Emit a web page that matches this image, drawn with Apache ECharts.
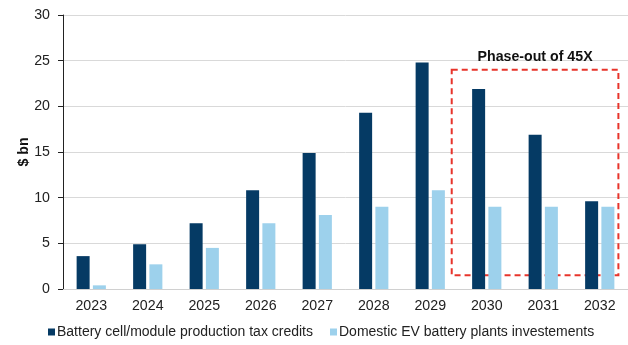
<!DOCTYPE html>
<html>
<head>
<meta charset="utf-8">
<script src="https://cdn.jsdelivr.net/npm/echarts@6/dist/echarts.min.js"></script>
<style>html,body{margin:0;padding:0;background:#fff;}#c{width:628px;height:345px;}</style>
</head>
<body>
<div id="c"></div>
<script>
const categories = ['2023','2024','2025','2026','2027','2028','2029','2030','2031','2032'];
const taxCredits = [3.6, 4.9, 7.2, 10.8, 14.9, 19.3, 24.8, 21.9, 16.9, 9.6];
const plantInvest = [0.4, 2.7, 4.5, 7.2, 8.1, 9.0, 10.8, 9.0, 9.0, 9.0];
const seriesNames = ['Battery cell/module production tax credits', 'Domestic EV battery plants investements'];
const yTicks = { min: 0, max: 30, interval: 5 };
const phaseOutLabel = 'Phase-out of 45X';
const phaseOutX = [6.38, 9.33];   // category-index positions of box edges
const phaseOutY = [24, 1.5];      // value positions of box top/bottom

const font = 'Liberation Sans, Arial, sans-serif';
const fs = 14.2;
const chart = echarts.init(document.getElementById('c'), null, {renderer: 'canvas'});
chart.setOption({
  animation: false,
  textStyle: { fontFamily: font },
  grid: { left: 63, right: -2, top: 15, bottom: 56 },
  legend: {
    data: seriesNames,
    bottom: 1, left: 43,
    itemWidth: 7, itemHeight: 7, itemGap: 17,
    icon: 'rect',
    textStyle: { fontSize: 14, color: '#222', fontFamily: font, padding: [0, 0, 0, -3] }
  },
  xAxis: [{
    type: 'category',
    data: categories,
    axisLine: { lineStyle: { color: '#d0d0d0' } },
    axisTick: { show: false },
    axisLabel: { fontSize: fs, color: '#222', margin: 10, fontFamily: font }
  }, {
    type: 'value', min: -0.5, max: 9.5, show: false,
    splitLine: { show: false }
  }],
  yAxis: {
    type: 'value',
    min: yTicks.min, max: yTicks.max, interval: yTicks.interval,
    name: '$ bn', nameLocation: 'middle', nameGap: 32, nameRotate: 90, nameMoveOverlap: false,
    nameTextStyle: { fontSize: fs, fontWeight: 'bold', color: '#111', fontFamily: font },
    axisLine: { show: true, onZero: false, lineStyle: { color: '#222' } },
    axisTick: { show: true, length: 5, lineStyle: { color: '#222' } },
    axisLabel: { fontSize: fs, color: '#222', margin: 13, fontFamily: font },
    splitLine: { lineStyle: { color: '#d9d9d9' } }
  },
  series: [{
    name: seriesNames[0], type: 'bar', data: taxCredits,
    barWidth: 13, barGap: '25%',
    itemStyle: { color: '#053a64' }
  }, {
    name: seriesNames[1], type: 'bar', data: plantInvest,
    barWidth: 13, barGap: '25%',
    itemStyle: { color: '#9dd1ec' }
  }, {
    name: 'phaseout', type: 'line', xAxisIndex: 1, data: [],
    markArea: {
      silent: true,
      itemStyle: { color: 'rgba(0,0,0,0)', borderColor: '#e8342b', borderWidth: 2, borderType: [6, 4] },
      label: { show: true, position: 'top', distance: 5, formatter: phaseOutLabel,
               fontSize: fs, fontWeight: 'bold', color: '#111', fontFamily: font },
      data: [[{ xAxis: phaseOutX[0], yAxis: phaseOutY[0] }, { xAxis: phaseOutX[1], yAxis: phaseOutY[1] }]]
    }
  }]
});
</script>
</body>
</html>
